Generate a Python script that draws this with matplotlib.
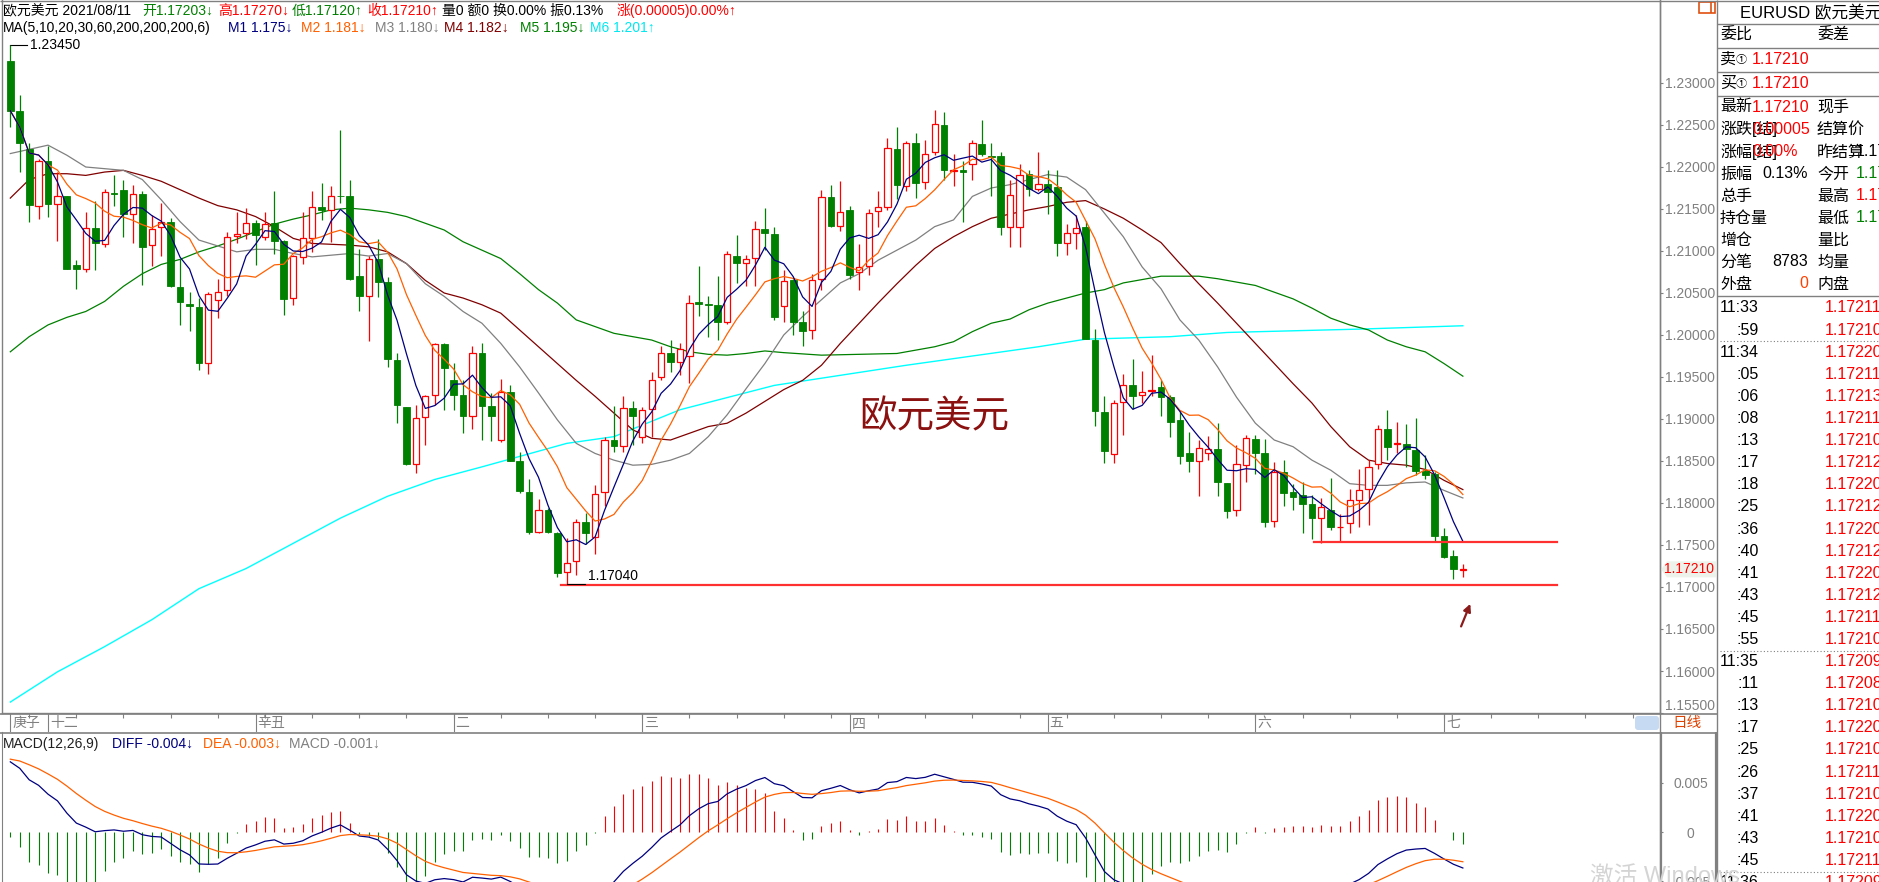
import numpy as np
import pandas as pd
import matplotlib
matplotlib.use('Agg')
import matplotlib.pyplot as plt
from matplotlib.patches import Polygon, FancyBboxPatch, Rectangle

plt.rcParams['font.family'] = ['Liberation Sans', 'Noto Sans CJK SC', 'DejaVu Sans']

# EURUSD daily candles (2021-01 .. 2021-08-11)
opens = [1.2326, 1.2267, 1.2222, 1.2154, 1.2207, 1.2156, 1.2165, 1.2083, 1.2078, 1.2127,
         1.2108, 1.2169, 1.2173, 1.2144, 1.2168, 1.2107, 1.2128, 1.2135, 1.2057, 1.2037,
         1.2033, 1.1967, 1.2042, 1.2053, 1.2118, 1.2121, 1.2133, 1.2117, 1.2133, 1.2112,
         1.2044, 1.2093, 1.2115, 1.2152, 1.2149, 1.2166, 1.2165, 1.2070, 1.2046, 1.2090,
         1.2063, 1.1970, 1.1914, 1.1846, 1.1902, 1.1928, 1.1989, 1.1946, 1.1929, 1.1903,
         1.1979, 1.1915, 1.1875, 1.1932, 1.1850, 1.1813, 1.1765, 1.1792, 1.1764, 1.1718,
         1.1731, 1.1777, 1.1759, 1.1813, 1.1875, 1.1868, 1.1913, 1.1879, 1.1912, 1.1950,
         1.1979, 1.1968, 1.1975, 1.2039, 1.2037, 1.2036, 1.2016, 1.2094, 1.2086, 1.2092,
         1.2126, 1.2120, 1.2035, 1.2065, 1.2015, 1.2006, 1.2067, 1.2164, 1.2130, 1.2149,
         1.2075, 1.2082, 1.2148, 1.2152, 1.2222, 1.2177, 1.2229, 1.2182, 1.2218, 1.2250,
         1.2195, 1.2196, 1.2203, 1.2227, 1.2213, 1.2213, 1.2129, 1.2129, 1.2192, 1.2174,
         1.2180, 1.2176, 1.2110, 1.2121, 1.2128, 1.1994, 1.1908, 1.1858, 1.1920, 1.1941,
         1.1929, 1.1933, 1.1938, 1.1926, 1.1899, 1.1859, 1.1850, 1.1860, 1.1864, 1.1824,
         1.1792, 1.1845, 1.1876, 1.1860, 1.1779, 1.1837, 1.1813, 1.1809, 1.1799, 1.1782,
         1.1792, 1.1771, 1.1776, 1.1804, 1.1817, 1.1847, 1.1888, 1.1870, 1.1870, 1.1863,
         1.1838, 1.1834, 1.1761, 1.1737, 1.17203]
highs = [1.2345, 1.2286, 1.2228, 1.2210, 1.2225, 1.2194, 1.2166, 1.2089, 1.2146, 1.2159,
         1.2174, 1.2190, 1.2185, 1.2178, 1.2171, 1.2143, 1.2157, 1.2139, 1.2091, 1.2051,
         1.2044, 1.2051, 1.2067, 1.2123, 1.2146, 1.2151, 1.2137, 1.2146, 1.2171, 1.2113,
         1.2095, 1.2146, 1.2171, 1.2181, 1.2177, 1.2244, 1.2185, 1.2102, 1.2094, 1.2114,
         1.2069, 1.1978, 1.1914, 1.1917, 1.1929, 1.1991, 1.1990, 1.1967, 1.1946, 1.1987,
         1.1990, 1.1931, 1.1948, 1.1941, 1.1861, 1.1829, 1.1805, 1.1794, 1.1765, 1.1758,
         1.1781, 1.1788, 1.1822, 1.1878, 1.1915, 1.1927, 1.1921, 1.1914, 1.1956, 1.1987,
         1.1994, 1.1990, 1.2048, 1.2082, 1.2046, 1.2070, 1.2100, 1.2119, 1.2095, 1.2136,
         1.2151, 1.2129, 1.2077, 1.2067, 1.2029, 1.2073, 1.2173, 1.2179, 1.2183, 1.2154,
         1.2108, 1.2150, 1.2171, 1.2235, 1.2248, 1.2231, 1.2241, 1.2232, 1.2268, 1.2265,
         1.2215, 1.2207, 1.2232, 1.2256, 1.2229, 1.2218, 1.2185, 1.2204, 1.2196, 1.2218,
         1.2197, 1.2197, 1.2132, 1.2143, 1.2136, 1.2007, 1.1927, 1.1923, 1.1954, 1.1971,
         1.1957, 1.1976, 1.1946, 1.1929, 1.1910, 1.1885, 1.1875, 1.1880, 1.1895, 1.1824,
         1.1869, 1.1881, 1.1881, 1.1876, 1.1849, 1.1851, 1.1823, 1.1825, 1.1809, 1.1806,
         1.1830, 1.1787, 1.1817, 1.1841, 1.1851, 1.1893, 1.1911, 1.1897, 1.1894, 1.1901,
         1.1857, 1.1837, 1.1770, 1.1744, 1.17270]
lows = [1.2248, 1.2194, 1.2134, 1.2138, 1.2141, 1.2112, 1.2078, 1.2055, 1.2075, 1.2077,
        1.2105, 1.2153, 1.2117, 1.2109, 1.2060, 1.2082, 1.2094, 1.2057, 1.2012, 1.2005,
        1.1958, 1.1953, 1.2020, 1.2046, 1.2110, 1.2114, 1.2083, 1.2113, 1.2096, 1.2024,
        1.2036, 1.2084, 1.2099, 1.2137, 1.2111, 1.2157, 1.2066, 1.2029, 1.1993, 1.2045,
        1.1962, 1.1895, 1.1845, 1.1836, 1.1869, 1.1917, 1.1911, 1.1911, 1.1883, 1.1888,
        1.1875, 1.1874, 1.1873, 1.1850, 1.1812, 1.1763, 1.1764, 1.1764, 1.1712, 1.1704,
        1.1714, 1.1751, 1.1739, 1.1796, 1.1861, 1.1861, 1.1869, 1.1872, 1.1879, 1.1946,
        1.1956, 1.1952, 1.1943, 1.2023, 1.1998, 1.1994, 1.2013, 1.2062, 1.2058, 1.2058,
        1.2101, 1.2018, 1.2015, 1.2000, 1.1987, 1.1995, 1.2054, 1.2129, 1.2124, 1.2067,
        1.2053, 1.2072, 1.2128, 1.2149, 1.2162, 1.2171, 1.2163, 1.2174, 1.2214, 1.2185,
        1.2177, 1.2134, 1.2185, 1.2213, 1.2166, 1.2119, 1.2105, 1.2105, 1.2166, 1.2171,
        1.2144, 1.2094, 1.2095, 1.2102, 1.1995, 1.1892, 1.1848, 1.1848, 1.1881, 1.1912,
        1.1919, 1.1927, 1.1903, 1.1879, 1.1846, 1.1837, 1.1808, 1.1851, 1.1808, 1.1782,
        1.1784, 1.1825, 1.1835, 1.1772, 1.1772, 1.1796, 1.1792, 1.1764, 1.1757, 1.1752,
        1.1768, 1.1754, 1.1764, 1.1772, 1.1774, 1.1841, 1.1851, 1.1860, 1.1843, 1.1833,
        1.1829, 1.1755, 1.1735, 1.1710, 1.17120]
closes = [1.2267, 1.2228, 1.2155, 1.2207, 1.2156, 1.2165, 1.2079, 1.2078, 1.2127, 1.2109,
          1.2170, 1.2168, 1.2144, 1.2168, 1.2105, 1.2126, 1.2135, 1.2058, 1.2039, 1.2035,
          1.1967, 1.2049, 1.2051, 1.2117, 1.2120, 1.2133, 1.2119, 1.2132, 1.2112, 1.2043,
          1.2094, 1.2116, 1.2152, 1.2149, 1.2166, 1.2165, 1.2067, 1.2046, 1.2090, 1.2063,
          1.1972, 1.1917, 1.1846, 1.1901, 1.1927, 1.1989, 1.1961, 1.1929, 1.1903, 1.1979,
          1.1915, 1.1903, 1.1932, 1.1850, 1.1814, 1.1765, 1.1792, 1.1766, 1.1717, 1.1729,
          1.1777, 1.1764, 1.1811, 1.1875, 1.1868, 1.1913, 1.1903, 1.1911, 1.1947, 1.1979,
          1.1968, 1.1983, 1.2038, 1.2037, 1.2036, 1.2016, 1.2097, 1.2086, 1.2091, 1.2126,
          1.2122, 1.2021, 1.2064, 1.2015, 1.2005, 1.2065, 1.2164, 1.2130, 1.2147, 1.2072,
          1.2081, 1.2145, 1.2152, 1.2223, 1.2178, 1.2229, 1.2181, 1.2216, 1.2251, 1.2196,
          1.2196, 1.2194, 1.2228, 1.2215, 1.2212, 1.2129, 1.2167, 1.2191, 1.2174, 1.2180,
          1.2170, 1.2110, 1.2121, 1.2127, 1.1995, 1.1909, 1.1862, 1.1919, 1.1941, 1.1927,
          1.1932, 1.1934, 1.1926, 1.1897, 1.1856, 1.1850, 1.1865, 1.1864, 1.1825, 1.1791,
          1.1847, 1.1877, 1.1860, 1.1777, 1.1837, 1.1812, 1.1807, 1.1799, 1.1782, 1.1795,
          1.1771, 1.1772, 1.1803, 1.1815, 1.1843, 1.1888, 1.1867, 1.1872, 1.1864, 1.1838,
          1.1833, 1.1761, 1.1736, 1.1721, 1.17210]

# longer moving averages: (candle index, value)
ma20_idx = [0, 4, 6, 8, 10, 12, 14, 16, 18, 20, 22, 24, 26, 28, 30, 32, 34, 36, 38, 40,
            42, 44, 46, 48, 50, 52, 54, 56, 58, 60, 62, 64, 66, 68, 70, 72, 74, 76, 78, 80,
            82, 84, 86, 88, 90, 92, 94, 96, 98, 100, 102, 104, 106, 108, 110, 112, 114, 116, 118, 120,
            122, 124, 126, 128, 130, 132, 134, 136, 138, 140, 142, 144, 146, 148, 150, 152, 154]
ma20_val = [1.2216, 1.2226, 1.2214, 1.2200, 1.2198, 1.2196, 1.2185, 1.2161, 1.2135, 1.2113,
            1.2106, 1.2099, 1.2102, 1.2102, 1.2097, 1.2093, 1.2095, 1.2097, 1.2094, 1.2097,
            1.2085, 1.2061, 1.2046, 1.2028, 1.2014, 1.1990, 1.1962, 1.1931, 1.1899, 1.1871,
            1.1859, 1.1851, 1.1845, 1.1846, 1.1851, 1.1859, 1.1879, 1.1905, 1.1936, 1.1966,
            1.2000, 1.2022, 1.2042, 1.2062, 1.2073, 1.2089, 1.2101, 1.2113, 1.2129, 1.2137,
            1.2165, 1.2175, 1.2179, 1.2185, 1.2191, 1.2188, 1.2173, 1.2145, 1.2117, 1.2081,
            1.2055, 1.2018, 1.1994, 1.1962, 1.1926, 1.1895, 1.1875, 1.1867, 1.1851, 1.1839,
            1.1823, 1.1821, 1.1821, 1.1824, 1.1825, 1.1815, 1.1806]
ma30_idx = [0, 2, 4, 6, 8, 10, 12, 14, 16, 18, 20, 22, 24, 26, 28, 30, 32, 34, 36, 38,
            40, 42, 44, 46, 48, 50, 52, 54, 56, 58, 60, 62, 64, 66, 68, 70, 72, 74, 76, 78,
            80, 82, 84, 86, 88, 90, 92, 94, 96, 98, 100, 102, 104, 106, 108, 110, 112, 114, 116, 118,
            120, 122, 124, 126, 128, 130, 132, 134, 136, 138, 140, 142, 144, 146, 148, 150, 152, 154]
ma30_val = [1.2163, 1.2185, 1.2192, 1.2192, 1.2190, 1.2194, 1.2196, 1.2190, 1.2183, 1.2173,
            1.2163, 1.2154, 1.2149, 1.2141, 1.2129, 1.2115, 1.2109, 1.2108, 1.2107, 1.2105,
            1.2099, 1.2085, 1.2065, 1.2050, 1.2044, 1.2036, 1.2026, 1.2006, 1.1986, 1.1966,
            1.1946, 1.1927, 1.1907, 1.1887, 1.1877, 1.1875, 1.1883, 1.1891, 1.1895, 1.1907,
            1.1921, 1.1935, 1.1946, 1.1964, 1.1990, 1.2014, 1.2038, 1.2061, 1.2083, 1.2103,
            1.2117, 1.2129, 1.2139, 1.2144, 1.2149, 1.2153, 1.2158, 1.2160, 1.2150, 1.2139,
            1.2125, 1.2110, 1.2085, 1.2061, 1.2038, 1.2014, 1.1990, 1.1966, 1.1942, 1.1919,
            1.1891, 1.1867, 1.1851, 1.1847, 1.1845, 1.1840, 1.1827, 1.1816]
ma60_idx = [0, 2, 4, 6, 8, 10, 12, 14, 16, 18, 20, 22, 24, 26, 28, 30, 32, 34, 36, 38,
            40, 42, 44, 46, 48, 50, 52, 54, 56, 58, 60, 62, 64, 66, 68, 70, 72, 74, 76, 78,
            80, 82, 86, 90, 94, 98, 100, 102, 104, 106, 108, 110, 112, 114, 116, 118,
            120, 122, 124, 126, 128, 130, 132, 134, 136, 138, 140, 142, 144, 146, 148, 150, 152, 154]
ma60_val = [1.1980, 1.1998, 1.2012, 1.2021, 1.2028, 1.2040, 1.2058, 1.2073, 1.2084, 1.2090,
            1.2099, 1.2106, 1.2114, 1.2123, 1.2132, 1.2138, 1.2143, 1.2149, 1.2151, 1.2149,
            1.2146, 1.2141, 1.2133, 1.2125, 1.2111, 1.2101, 1.2091, 1.2073, 1.2054, 1.2038,
            1.2018, 1.2010, 1.2002, 1.1998, 1.1994, 1.1986, 1.1980, 1.1977, 1.1976, 1.1978,
            1.1981, 1.1979, 1.1976, 1.1977, 1.1978, 1.1986, 1.1992, 1.2004, 1.2014, 1.2019,
            1.2030, 1.2038, 1.2044, 1.2050, 1.2054, 1.2062,
            1.2066, 1.2070, 1.2070, 1.2070, 1.2067, 1.2063, 1.2059, 1.2051, 1.2043, 1.2032,
            1.2020, 1.2012, 1.2006, 1.1994, 1.1986, 1.1980, 1.1966, 1.1951]
ma200_idx = [0, 5, 10, 15, 20, 25, 30, 35, 40, 45, 50, 59, 64, 71, 81, 95, 109, 114, 123, 129, 143, 154]
ma200_val = [1.1563, 1.1599, 1.1629, 1.1661, 1.1698, 1.1722, 1.1752, 1.1782, 1.1808, 1.1828,
             1.1843, 1.1871, 1.1879, 1.1911, 1.1940, 1.1964, 1.1986, 1.1995, 1.1998, 1.2003,
             1.2007, 1.2011]

# MACD state before the first visible candle (estimated from the panel)
EMA12_START = 1.2240
EMA26_START = 1.2165
DEA_START = 0.0075

price_ticks = [1.155, 1.160, 1.165, 1.170, 1.175, 1.180, 1.185, 1.190, 1.195, 1.200,
               1.205, 1.210, 1.215, 1.220, 1.225, 1.230]
macd_ticks = [-0.005, 0.0, 0.005]
macd_tick_labels = ['-0.005', '0', '0.005']

month_idx = [0, 4, 26, 47, 67, 89, 110, 132, 152]
month_lbl = ['庚子', '十二', '辛丑', '二', '三', '四', '五', '六', '七']

high_mark = 1.23450
low_mark = 1.17040
support_hi = 1.17539
support_lo = 1.17025
last_price = 1.17210

tick_times = ['11:33', ':59', '11:34', ':05', ':06', ':08', ':13', ':17', ':18', ':25', ':36', ':40',
              ':41', ':43', ':45', ':55', '11:35', ':11', ':13', ':17', ':25', ':26', ':37', ':41',
              ':43', ':45', '11:36']
tick_prices = ['1.17211', '1.17210', '1.17220', '1.17211', '1.17213', '1.17211', '1.17210',
               '1.17212', '1.17220', '1.17212', '1.17220', '1.17212', '1.17220', '1.17212',
               '1.17211', '1.17210', '1.17209', '1.17208', '1.17210', '1.17220', '1.17210',
               '1.17211', '1.17210', '1.17220', '1.17210', '1.17211', '1.17209']

RED = '#ff0000'
GREEN = '#008000'
GRAY = '#808080'
C_MA = ['#000080', '#ff6000', '#808080', '#800000', '#008000', '#00ffff']

W, H = 1879, 882
fig = plt.figure(figsize=(W / 100, H / 100), dpi=100, facecolor='white')


def rect(left, top, right, bottom):
    return [left / W, (H - bottom) / H, (right - left) / W, (bottom - top) / H]


o = np.array(opens)
hi = np.array(highs)
lo = np.array(lows)
c = np.array(closes)
x = np.arange(len(c))
XLIM = (-0.88, 174.9)

# ---- price panel
ax = fig.add_axes(rect(2, 0, 1660, 713))
ax.set_xlim(*XLIM)
ax.set_ylim(1.155, 1.2 + 335 / 8400)

up = c >= o
bl = np.minimum(o, c)
bh = np.maximum(o, c)
bh_draw = np.maximum(bh - bl, 0.00003)
ax.vlines(x[~up], lo[~up], hi[~up], color=GREEN, lw=0.9, zorder=3)
ax.vlines(x[up], bh[up], hi[up], color=RED, lw=0.9, zorder=3)
ax.vlines(x[up], lo[up], bl[up], color=RED, lw=0.9, zorder=3)
ax.bar(x[~up], bh_draw[~up], bottom=bl[~up], width=0.72, color=GREEN, edgecolor=GREEN, lw=0.6, zorder=3)
ax.bar(x[up], bh_draw[up], bottom=bl[up], width=0.66, facecolor='white', edgecolor=RED, lw=0.9, zorder=3)

ma5 = pd.Series(closes).rolling(5, min_periods=1).mean()
ma10 = pd.Series(closes).rolling(10, min_periods=1).mean()
ax.plot(ma200_idx, ma200_val, color=C_MA[5], lw=1.0, zorder=2)
ax.plot(ma60_idx, ma60_val, color=C_MA[4], lw=0.9, zorder=2)
ax.plot(ma30_idx, ma30_val, color=C_MA[3], lw=0.9, zorder=2)
ax.plot(ma20_idx, ma20_val, color=C_MA[2], lw=0.9, zorder=2)
ax.plot(x, ma10, color=C_MA[1], lw=0.9, zorder=4)
ax.plot(x, ma5, color=C_MA[0], lw=0.9, zorder=4)

# support lines, marks and arrow
ax.plot([138.2, 164], [support_hi, support_hi], color='#ff3030', lw=1.6, zorder=5)
ax.plot([58.4, 164], [support_lo, support_lo], color='#ff3030', lw=1.6, zorder=5)
ax.plot([0, 1.8], [high_mark, high_mark], color='black', lw=0.8)
ax.text(2.1, high_mark, f'{high_mark:.5f}', fontsize=10, va='center', ha='left')
ax.plot([59, 60.9], [low_mark - 0.00005, low_mark - 0.00005], color='black', lw=0.8, zorder=6)
ax.text(61.2, low_mark + 0.0001, f'{low_mark:.5f}', fontsize=10, va='bottom', ha='left')
ax.annotate('', xy=(154.9, 1.1683), xytext=(153.7, 1.1650),
            arrowprops=dict(arrowstyle='-|>', color='#8b1a1a', lw=1.6, mutation_scale=11))
ax.text(97.95, 1.19024, '欧元美元', fontsize=27, color='#8b1010', ha='center', va='center')

ax.set_xticks([])
ax.set_yticks(price_ticks)
ax.set_yticklabels([f'{t:.5f}' for t in price_ticks])
ax.yaxis.tick_right()
ax.tick_params(axis='y', length=2.2, width=0.8, color=GRAY, labelcolor=GRAY, labelsize=10, pad=1.5)
ax.get_yticklabels()[0].set_verticalalignment('bottom')
ax.spines['top'].set_visible(False)
for s in ['left', 'right', 'bottom']:
    ax.spines[s].set_color(GRAY)
    ax.spines[s].set_linewidth(1.0)

# ---- date strip
sx = fig.add_axes(rect(2, 713, 1660, 732))
sx.set_xlim(*XLIM)
sx.set_ylim(0, 1)
sx.axis('off')
sx.vlines(np.arange(2, 175, 5), 0.72, 1, color=GRAY, lw=0.8)
for mi, ml in zip(month_idx, month_lbl):
    sx.vlines(mi, 0, 1, color=GRAY, lw=0.8)
    sx.text(mi + 0.2, 0.45, ml, fontsize=10, color=GRAY, ha='left', va='center')

# ---- MACD panel
e12, e26, dea_v = EMA12_START, EMA26_START, DEA_START
diff, dea = [], []
for cl in closes:
    e12 += 2 / 13 * (cl - e12)
    e26 += 2 / 27 * (cl - e26)
    d = e12 - e26
    dea_v += 2 / 10 * (d - dea_v)
    diff.append(d)
    dea.append(dea_v)
diff = np.array(diff)
dea = np.array(dea)
macd = 2 * (diff - dea)

mx = fig.add_axes(rect(2, 732, 1660, 882))
mx.set_xlim(*XLIM)
mx.set_ylim(-0.005102, 0.010204)
pos = macd >= 0
mx.vlines(x[pos], 0, macd[pos], color=RED, lw=0.8)
mx.vlines(x[~pos], 0, macd[~pos], color=GREEN, lw=0.8)
mx.plot(x, diff, color=C_MA[0], lw=0.9)
mx.plot(x, dea, color=C_MA[1], lw=0.9)
mx.set_xticks([])
mx.set_yticks(macd_ticks)
mx.set_yticklabels(macd_tick_labels)
mx.yaxis.tick_right()
mx.tick_params(axis='y', length=2.2, width=0.8, color=GRAY, labelcolor=GRAY, labelsize=10, pad=20)
for lab in mx.get_yticklabels():
    lab.set_horizontalalignment('center')
for s in mx.spines.values():
    s.set_visible(False)
mx.spines['left'].set_visible(True)
mx.spines['left'].set_color(GRAY)

# ---- overlay in pixel coordinates: headers, frame, quote panel
ov = fig.add_axes([0, 0, 1, 1])
ov.set_xlim(0, W)
ov.set_ylim(H, 0)
ov.axis('off')
ov.patch.set_alpha(0)

ov.hlines(0.5, 0, W, color=GRAY, lw=1)
ov.vlines(1660, 0, H, color=GRAY, lw=1)
ov.vlines(1717, 0, H, color=GRAY, lw=1)
ov.vlines([1661, 1716], 732, H, color=GRAY, lw=1.6)
ov.hlines([713.5, 732.5], 0, 1717, color=GRAY, lw=1.2)

hdr = [(3, '欧元美元 2021/08/11', 'black'), (142, '开1.17203↓', GREEN), (218, '高1.17270↓', RED),
       (292, '低1.17120↑', GREEN), (367, '收1.17210↑', RED), (442, '量0 额0 换0.00% 振0.13%', 'black'),
       (617, '涨(0.00005)0.00%↑', RED)]
for hx, ht, hc in hdr:
    ov.text(hx, 11, ht, fontsize=10, color=hc, va='center', ha='left')
ma_hdr = [(3, 'MA(5,10,20,30,60,200,200,200,6)', 'black'), (228, 'M1 1.175↓', C_MA[0]),
          (301, 'M2 1.181↓', C_MA[1]), (375, 'M3 1.180↓', C_MA[2]), (444, 'M4 1.182↓', C_MA[3]),
          (520, 'M5 1.195↓', C_MA[4]), (590, 'M6 1.201↑', '#00e8f0')]
for hx, ht, hc in ma_hdr:
    ov.text(hx, 28, ht, fontsize=10, color=hc, va='center', ha='left')
macd_hdr = [(3, 'MACD(12,26,9)', '#202020'), (112, 'DIFF -0.004↓', C_MA[0]),
            (203, 'DEA -0.003↓', C_MA[1]), (289, 'MACD -0.001↓', GRAY)]
for hx, ht, hc in macd_hdr:
    ov.text(hx, 744, ht, fontsize=10, color=hc, va='center', ha='left')

# last price tag on the axis
ly = 335 - 8400 * (last_price - 1.2)
ov.add_patch(Polygon([(1661, ly), (1667, ly - 8), (1716, ly - 8), (1716, ly + 8), (1667, ly + 8)],
                     closed=True, facecolor='#edf3ea', edgecolor='none'))
ov.text(1664, ly, f'{last_price:.5f}', fontsize=10, color=RED, va='center', ha='left')

# scroll thumb + period label
ov.add_patch(FancyBboxPatch((1635, 716), 24, 14, boxstyle='round,pad=0,rounding_size=3',
                            facecolor='#c6daf2', edgecolor='none'))
ov.text(1672, 723, '日线', fontsize=10.5, color='#e04000', va='center', ha='left')
ov.add_patch(Rectangle((1699, 2), 16, 11, facecolor='none', edgecolor='#e05010', lw=1.2))
ov.vlines(1711, 2, 13, color='#e05010', lw=1.2)

# quote panel
ov.hlines([24, 48, 72, 96, 296], 1717, W, color=GRAY, lw=1)
ov.text(1740, 12, 'EURUSD 欧元美元(欧元美元)', fontsize=12, va='center', ha='left')
left_rows = [(35, '委比'), (59, '卖'), (83, '买'), (107, '最新'), (129, '涨跌[结]'),
             (152, '涨幅[结]'), (174, '振幅'), (196, '总手'), (218, '持仓量'), (240, '增仓'),
             (262, '分笔'), (284, '外盘')]
for ry, rt in left_rows:
    ov.text(1720, ry, rt, fontsize=11.5, va='center', ha='left')
for ry in (59, 83):
    ov.text(1736, ry + 1, '①', fontsize=8, va='center', ha='left')
for ry, rt in [(59, '1.17210'), (83, '1.17210'), (107, '1.17210'), (129, '0.00005'), (152, '0.00%')]:
    ov.text(1752, ry, rt, fontsize=11.5, color=RED, va='center', ha='left')
for ry, rt, rc in [(174, '0.13%', 'black'), (262, '8783', 'black'), (284, '0', '#ff4000')]:
    ov.text(1808, ry, rt, fontsize=11.5, color=rc, va='center', ha='right')
right_rows = [(35, '委差'), (107, '现手'), (129, '结算价'), (152, '昨结算'), (174, '今开'),
              (196, '最高'), (218, '最低'), (240, '量比'), (262, '均量'), (284, '内盘')]
for ry, rt in right_rows:
    ov.text(1817, ry, rt, fontsize=11.5, va='center', ha='left')
for ry, rt, rc in [(152, '1.17205', 'black'), (174, '1.17203', GREEN), (196, '1.17270', RED),
                   (218, '1.17120', GREEN)]:
    ov.text(1856, ry, rt, fontsize=11.5, color=rc, va='center', ha='left')

for j, (tt, tp) in enumerate(zip(tick_times, tick_prices)):
    ty = 308 + 22.1 * j
    ov.text(1759, ty, tt, fontsize=11.5, va='center', ha='right')
    ov.text(1825, ty, tp, fontsize=11.5, color=RED, va='center', ha='left')
    if tt.startswith('11:') and j > 0:
        ov.hlines(ty - 11, 1720, W, color=GRAY, lw=0.8, linestyles=(0, (1, 2)))

ov.text(1590, 866, '激活 Windows', fontsize=17, color='#d4d4d4', va='top', ha='left')

fig.savefig('out.png', dpi=100, facecolor='white')
